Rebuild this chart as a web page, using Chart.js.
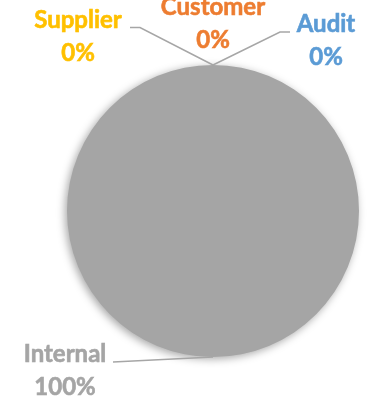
<!DOCTYPE html>
<html>
<head>
<meta charset="utf-8">
<script src="https://cdn.jsdelivr.net/npm/chart.js@4"></script>
<style>
  html, body { margin: 0; padding: 0; background: #fff; }
</style>
</head>
<body>
<canvas id="pie" width="372" height="401"></canvas>
<script>
const categories = ['Supplier', 'Customer', 'Audit', 'Internal'];
const shares = [0, 0, 0, 100];
const sliceColors = ['#FFC000', '#ED7D31', '#5B9BD5', '#A5A5A5'];

// label placement: name centre x / baseline y, plus the elbow points of each leader line
const labelSpots = [
  { x: 78, y: 28, leader: [[130, 27.5], [140, 27.5]] },
  { x: 213, y: 15, leader: null },
  { x: 326, y: 32, leader: [[290, 32], [280, 32]] },
  { x: 65, y: 362, leader: [[113, 362]] }
];

const total = shares.reduce((a, b) => a + b, 0);
const percentText = shares.map(v => Math.round(v / total * 100) + '%');

// soft drop shadow under the pie
const pieShadow = {
  id: 'pieShadow',
  beforeDatasetDraw(chart) {
    const ctx = chart.ctx;
    ctx.save();
    ctx.shadowColor = 'rgba(0,0,0,0.35)';
    ctx.shadowBlur = 8;
    ctx.shadowOffsetX = -2;
    ctx.shadowOffsetY = 2;
  },
  afterDatasetDraw(chart) {
    chart.ctx.restore();
  }
};

// category + percentage labels with leader lines to the slice edge
const pieLabels = {
  id: 'pieLabels',
  afterDatasetsDraw(chart) {
    const ctx = chart.ctx;
    const arcs = chart.getDatasetMeta(0).data;
    ctx.save();
    arcs.forEach((arc, i) => {
      const spot = labelSpots[i];
      const p = arc.getProps(['x', 'y', 'startAngle', 'endAngle', 'outerRadius'], true);
      const mid = (p.startAngle + p.endAngle) / 2;
      const ex = p.x + Math.cos(mid) * p.outerRadius;
      const ey = p.y + Math.sin(mid) * p.outerRadius;
      if (spot.leader) {
        ctx.beginPath();
        ctx.strokeStyle = '#A6A6A6';
        ctx.lineWidth = 1.5;
        ctx.moveTo(spot.leader[0][0], spot.leader[0][1]);
        for (let k = 1; k < spot.leader.length; k++) ctx.lineTo(spot.leader[k][0], spot.leader[k][1]);
        ctx.lineTo(ex, ey);
        ctx.stroke();
      }
      ctx.fillStyle = sliceColors[i];
      ctx.strokeStyle = sliceColors[i];
      ctx.lineWidth = 0.6;
      ctx.font = 'bold 24px Lato';
      ctx.textAlign = 'center';
      ctx.textBaseline = 'alphabetic';
      ctx.fillText(categories[i], spot.x, spot.y);
      ctx.strokeText(categories[i], spot.x, spot.y);
      ctx.fillText(percentText[i], spot.x, spot.y + 33);
      ctx.strokeText(percentText[i], spot.x, spot.y + 33);
    });
    ctx.restore();
  }
};

new Chart(document.getElementById('pie'), {
  type: 'pie',
  data: {
    labels: categories,
    datasets: [{
      data: shares,
      backgroundColor: sliceColors,
      borderWidth: 0
    }]
  },
  options: {
    responsive: false,
    animation: false,
    devicePixelRatio: 1,
    layout: { padding: { left: 67, right: 13, top: 65, bottom: 44 } },
    plugins: {
      legend: { display: false },
      tooltip: { enabled: false }
    }
  },
  plugins: [pieShadow, pieLabels]
});
</script>
</body>
</html>
